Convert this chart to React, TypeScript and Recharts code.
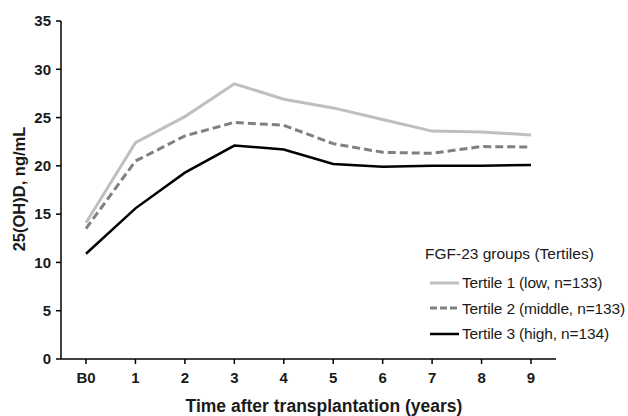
import React from 'react';
import { LineChart, Line, XAxis, YAxis, Label } from 'recharts';

const years = ['B0', '1', '2', '3', '4', '5', '6', '7', '8', '9'];
const tertile1 = [14.1, 22.4, 25.1, 28.5, 26.9, 26.0, 24.8, 23.6, 23.5, 23.2];
const tertile2 = [13.5, 20.5, 23.1, 24.5, 24.2, 22.3, 21.4, 21.3, 22.0, 21.95];
const tertile3 = [10.9, 15.6, 19.3, 22.1, 21.7, 20.2, 19.9, 20.0, 20.0, 20.1];
const yTicks = [0, 5, 10, 15, 20, 25, 30, 35];

const series = [
  { key: 't1', name: 'Tertile 1 (low, n=133)', color: '#bfbfbf', width: 3, dash: undefined, legendDash: undefined },
  { key: 't2', name: 'Tertile 2 (middle, n=133)', color: '#808080', width: 3, dash: '8 4', legendDash: '7 3' },
  { key: 't3', name: 'Tertile 3 (high, n=134)', color: '#000000', width: 2.5, dash: undefined, legendDash: undefined },
];

const data = years.map((year, i) => ({
  year,
  t1: tertile1[i],
  t2: tertile2[i],
  t3: tertile3[i],
}));

const FONT = '"Liberation Sans", Arial, sans-serif';
const TEXT = '#1a1a1a';

// legend sits inside the plot area in the original, so it is an overlay here
const LegendBox = () => (
  <div
    style={{
      position: 'absolute',
      left: 425,
      top: 241,
      width: 203,
      whiteSpace: 'nowrap',
      fontFamily: FONT,
      fontSize: 15.5,
      color: TEXT,
      lineHeight: '25.5px',
    }}
  >
    <div style={{ marginBottom: 3.5 }}>FGF-23 groups (Tertiles)</div>
    {series.map((s) => (
      <div key={s.key} style={{ display: 'flex', alignItems: 'center' }}>
        <svg width={37} height={10} style={{ flex: 'none' }}>
          <line x1={5} y1={5} x2={34} y2={5} stroke={s.color} strokeWidth={s.width} strokeDasharray={s.legendDash} />
        </svg>
        <span style={{ letterSpacing: -0.15 }}>{s.name}</span>
      </div>
    ))}
  </div>
);

const App = () => {
  return (
    <div style={{ position: 'absolute', left: 0, top: 0, width: 628, height: 416, background: '#fff', overflow: 'hidden' }}>
      <LineChart width={628} height={416} data={data} margin={{ top: 21, right: 72, left: 0, bottom: 0 }}>
        <XAxis
          dataKey="year"
          height={57}
          padding={{ left: 25, right: 25 }}
          axisLine={{ stroke: '#000', strokeWidth: 1.5 }}
          tickLine={{ stroke: '#000', strokeWidth: 1.5 }}
          tickSize={5}
          tickMargin={8}
          tick={{ fill: TEXT, fontSize: 15, fontWeight: 'bold', fontFamily: FONT }}
        >
          <Label
            content={() => (
              <text
                x={324}
                y={412}
                textAnchor="middle"
                style={{ fill: TEXT, fontSize: 17.5, fontWeight: 'bold', fontFamily: FONT }}
              >
                Time after transplantation (years)
              </text>
            )}
          />
        </XAxis>
        <YAxis
          width={61}
          domain={[0, 35]}
          ticks={yTicks}
          interval={0}
          axisLine={{ stroke: '#000', strokeWidth: 1.5 }}
          tickLine={{ stroke: '#000', strokeWidth: 1.5 }}
          tickSize={5}
          tickMargin={5}
          tick={{ fill: TEXT, fontSize: 15, fontWeight: 'bold', fontFamily: FONT }}
        >
          <Label
            content={() => (
              <text
                x={25}
                y={189}
                transform="rotate(-90 25 189)"
                textAnchor="middle"
                style={{ fill: TEXT, fontSize: 16.5, fontWeight: 'bold', fontFamily: FONT }}
              >
                25(OH)D, ng/mL
              </text>
            )}
          />
        </YAxis>
        {series.map((s) => (
          <Line
            key={s.key}
            type="linear"
            dataKey={s.key}
            name={s.name}
            stroke={s.color}
            strokeWidth={s.width}
            strokeDasharray={s.dash}
            dot={false}
            activeDot={false}
            isAnimationActive={false}
          />
        ))}
      </LineChart>
      <LegendBox />
    </div>
  );
};

export default App;
